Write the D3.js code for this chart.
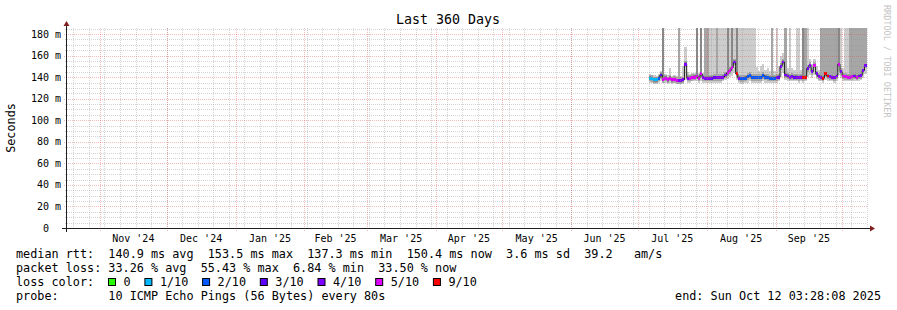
<!DOCTYPE html>
<html>
<head>
<meta charset="utf-8">
<script src="https://cdn.jsdelivr.net/npm/d3@7"></script>
<style>
body { margin: 0; background: #fff; }
svg { display: block; font-family: "DejaVu Sans Mono", monospace; }
text { white-space: pre; }
</style>
</head>
<body>
<div id="chart"></div>
<script>
(function() {

const w = 897;
const h = 310;
const plot = {left: 67, right: 867, top: 28, bottom: 228};
const yMax = 185.57;

const endTime = new Date(Date.UTC(2025, 9, 12, 3, 28, 8));
const startTime = d3.utcDay.offset(endTime, -360);
const firstDay = new Date(Date.UTC(2025, 6, 6));

// one value per day from Jul 6 2025
const medianMs = [
    139, 138.5, 137.5, 137.5, 139, 142, 138, 139, 137.5, 139,
    137.5, 138, 137, 137, 137, 137.5, 152, 139, 139, 139.5,
    140, 141, 139, 143, 139.5, 139, 139, 139, 139, 139.5,
    139.5, 139.5, 139.5, 140, 142, 144, 146, 149, 154, 143,
    139, 138.5, 138.5, 139, 140.5, 141.5, 139.5, 139.5, 139.5, 139.5,
    139.5, 141.5, 140, 139.5, 139, 139, 139, 139.5, 140, 150,
    154, 142, 141, 140, 140.5, 140, 140, 139.5, 140, 139.5,
    140, 148, 151, 145, 151, 143, 140.5, 140, 139, 143,
    141, 140.5, 140, 139.5, 141, 152, 145, 141, 140.5, 140,
    140, 140.5, 141, 140, 141, 141.5, 146, 151
];
const lossPings = [
    1, 1, 1, 1, 2, 3, 5, 5, 5, 5,
    5, 5, 5, 4, 4, 4, 4, 4, 5, 5,
    5, 5, 5, 5, 4, 4, 4, 4, 3, 3,
    4, 4, 4, 4, 4, 5, 5, 5, 4, 9,
    4, 2, 2, 2, 2, 2, 2, 2, 2, 2,
    2, 2, 2, 2, 2, 2, 2, 3, 3, 4,
    4, 4, 4, 4, 4, 3, 4, 4, 4, 9,
    9, 4, 4, 4, 5, 4, 4, 4, 9, 9,
    9, 4, 4, 4, 4, 5, 4, 5, 5, 5,
    5, 5, 4, 5, 4, 4, 4, 4
];
const smokeLowMs = [
    135, 135, 134, 134, 135, 136, 135, 135, 134, 135,
    134, 135, 134, 134, 134, 134, 137, 135, 135, 136,
    136, 136, 135, 136, 135, 135, 135, 135, 135, 135,
    135, 135, 135, 136, 137, 138, 140, 141, 144, 137,
    135, 134, 134, 135, 135, 136, 135, 135, 135, 135,
    135, 136, 135, 135, 135, 135, 135, 135, 136, 140,
    144, 137, 136, 136, 136, 136, 136, 135, 136, 135,
    136, 140, 142, 139, 142, 138, 136, 136, 135, 137,
    136, 136, 136, 135, 136, 142, 139, 136, 136, 136,
    136, 136, 136, 136, 136, 137, 139, 143
];
const smokeHighMs = [
    143, 142, 142, 141, 143, 146, 143, 143, 142, 148,
    141, 142, 141, 141, 141, 150, 168, 145, 143, 144,
    144, 146, 144, 147, 144, 144, 144, 144, 144, 144,
    144, 145, 145, 146, 148, 150, 152, 156, 160, 152,
    146, 144, 145, 147, 148, 150, 147, 146, 149, 146,
    150, 152, 147, 148, 146, 147, 146, 147, 150, 160,
    162, 150, 148, 147, 148, 147, 147, 146, 147, 147,
    148, 156, 157, 152, 157, 150, 147, 147, 146, 150,
    148, 147, 147, 146, 150, 160, 152, 148, 147, 147,
    147, 147, 148, 147, 148, 148, 152, 157
];
// how many of the high pings go off the top of the graph (smoke shade)
const offScale = [
    0, 0, 0, 0, 0, 0, 3, 0, 0, 0,
    0, 0, 0, 2, 0, 0, 0, 0, 0, 0,
    0, 3, 0, 3, 0, 2, 2, 1, 1, 1,
    2, 1, 1, 1, 1, 3, 1, 3, 1, 3,
    1, 1, 1, 1, 1, 1, 1, 1, 0, 0,
    0, 0, 0, 0, 0, 2, 0, 1, 0, 0,
    0, 2, 0, 1, 0, 0, 1, 1, 0, 3,
    2, 1, 0, 0, 0, 0, 0, 2, 2, 2,
    2, 2, 2, 2, 2, 3, 1, 0, 1, 1,
    2, 2, 2, 2, 2, 2, 2, 2
];

const lossSteps = [1, 2, 3, 4, 5, 9];
const lossColors = ["#26ff00", "#00b8ff", "#0059ff", "#5e00ff", "#7e00ff", "#dd00ff", "#ff0000"];
const lossLabels = ["0", "1/10", "2/10", "3/10", "4/10", "5/10", "9/10"];
const smokeShades = ["#cdcdcd", "#a6a6a6", "#878787"];

const monthLabels = ["Nov '24", "Dec '24", "Jan '25", "Feb '25", "Mar '25", "Apr '25",
    "May '25", "Jun '25", "Jul '25", "Aug '25", "Sep '25"];
const yTicks = [0, 20, 40, 60, 80, 100, 120, 140, 160, 180];
const yTickLabels = ["0  ", "20 m", "40 m", "60 m", "80 m", "100 m", "120 m", "140 m", "160 m", "180 m"];

const medianStats = "median rtt:  140.9 ms avg  153.5 ms max  137.3 ms min  150.4 ms now  3.6 ms sd  39.2   am/s";
const lossStats = "packet loss: 33.26 % avg  55.43 % max  6.84 % min  33.50 % now";
const probeText = "probe:       10 ICMP Echo Pings (56 Bytes) every 80s";
const endText = "end: Sun Oct 12 03:28:08 2025";

const xScale = d3.scaleUtc()
    .domain([startTime, endTime])
    .range([plot.left, plot.right]);

const yScale = d3.scaleLinear()
    .domain([0, yMax])
    .range([plot.bottom, plot.top]);

const lossColour = d3.scaleThreshold()
    .domain(lossSteps)
    .range(lossColors);

const days = medianMs.map(function(m, i) {
    return {
        date: d3.utcDay.offset(firstDay, i),
        median: m,
        loss: lossPings[i],
        low: smokeLowMs[i],
        high: smokeHighMs[i],
        off: offScale[i]
    };
});

function dayX(d) {
    return xScale(d.date);
}
function dayW(d) {
    return xScale(d3.utcDay.offset(d.date, 1)) - xScale(d.date);
}

const svg = d3.select("#chart")
    .append("svg")
    .attr("width", w)
    .attr("height", h);

svg.append("rect")
    .attr("width", w)
    .attr("height", h)
    .attr("fill", "#fff");

// smoke, outer light band first
const smoke = svg.append("g").attr("shape-rendering", "crispEdges");

smoke.selectAll("rect.s1")
    .data(days)
    .enter()
    .append("rect")
    .attr("x", dayX)
    .attr("width", dayW)
    .attr("y", function(d) { return yScale(d.off >= 1 ? yMax : d.high); })
    .attr("height", function(d) { return yScale(d.low) - yScale(d.off >= 1 ? yMax : d.high); })
    .attr("fill", smokeShades[0]);

smoke.selectAll("rect.s2")
    .data(days)
    .enter()
    .append("rect")
    .attr("x", dayX)
    .attr("width", dayW)
    .attr("y", function(d) { return yScale(d.off >= 2 ? yMax : Math.min(d.high, d.median + 3)); })
    .attr("height", function(d) {
        return yScale(Math.max(d.low, d.median - 3)) - yScale(d.off >= 2 ? yMax : Math.min(d.high, d.median + 3));
    })
    .attr("fill", smokeShades[1]);

smoke.selectAll("rect.s3")
    .data(days)
    .enter()
    .append("rect")
    .attr("x", dayX)
    .attr("width", dayW)
    .attr("y", function(d) { return yScale(d.off >= 3 ? yMax : d.median + 1.6); })
    .attr("height", function(d) {
        return yScale(d.median - 1.6) - yScale(d.off >= 3 ? yMax : d.median + 1.6);
    })
    .attr("fill", smokeShades[2]);

// median line + loss coloured band
const lineData = days.concat([{date: d3.utcDay.offset(days[days.length-1].date, 1), median: days[days.length-1].median}]);
svg.append("path")
    .datum(lineData)
    .attr("fill", "none")
    .attr("stroke", "#202020")
    .attr("stroke-width", 1)
    .attr("d", d3.line()
        .x(function(d) { return xScale(d.date); })
        .y(function(d) { return yScale(d.median); })
        .curve(d3.curveStepAfter));

svg.append("g")
    .attr("shape-rendering", "crispEdges")
    .selectAll("rect")
    .data(days)
    .enter()
    .append("rect")
    .attr("x", dayX)
    .attr("width", dayW)
    .attr("y", function(d) { return yScale(d.median + 1.3); })
    .attr("height", function(d) { return yScale(d.median - 1.3) - yScale(d.median + 1.3); })
    .attr("fill", function(d) { return lossColour(d.loss); });

// grid (drawn over the graph like rrdtool)
const grid = svg.append("g")
    .attr("shape-rendering", "crispEdges")
    .attr("stroke-dasharray", "1,1");

const minorColour = "rgba(143,143,143,0.38)";
const majorColour = "rgba(222,79,79,0.38)";

const minorY = d3.range(5, yMax, 5).filter(function(v) { return v % 20 != 0; });
grid.selectAll("line.hy")
    .data(minorY)
    .enter()
    .append("line")
    .attr("x1", plot.left - 2)
    .attr("x2", plot.right)
    .attr("y1", function(d) { return Math.round(yScale(d)) + 0.5; })
    .attr("y2", function(d) { return Math.round(yScale(d)) + 0.5; })
    .attr("stroke", minorColour);

const weeks = d3.utcSunday.range(startTime, endTime);
grid.selectAll("line.vx")
    .data(weeks)
    .enter()
    .append("line")
    .attr("x1", function(d) { return Math.round(xScale(d)) + 0.5; })
    .attr("x2", function(d) { return Math.round(xScale(d)) + 0.5; })
    .attr("y1", plot.top)
    .attr("y2", plot.bottom + 2)
    .attr("stroke", minorColour);

grid.selectAll("line.my")
    .data(yTicks.slice(1))
    .enter()
    .append("line")
    .attr("x1", plot.left - 3)
    .attr("x2", plot.right)
    .attr("y1", function(d) { return Math.round(yScale(d)) + 0.5; })
    .attr("y2", function(d) { return Math.round(yScale(d)) + 0.5; })
    .attr("stroke", majorColour);

const months = d3.utcMonth.range(d3.utcMonth.ceil(startTime), endTime);
grid.selectAll("line.mx")
    .data(months)
    .enter()
    .append("line")
    .attr("x1", function(d) { return Math.round(xScale(d)) + 0.5; })
    .attr("x2", function(d) { return Math.round(xScale(d)) + 0.5; })
    .attr("y1", plot.top)
    .attr("y2", plot.bottom + 3)
    .attr("stroke", majorColour);

// axes
svg.append("line")
    .attr("x1", plot.left - 5)
    .attr("x2", plot.right + 3)
    .attr("y1", plot.bottom + 0.5)
    .attr("y2", plot.bottom + 0.5)
    .attr("stroke", "#1f1f1f")
    .attr("shape-rendering", "crispEdges");

svg.append("line")
    .attr("x1", plot.left - 0.5)
    .attr("x2", plot.left - 0.5)
    .attr("y1", plot.bottom + 4)
    .attr("y2", plot.top - 3)
    .attr("stroke", "#1f1f1f")
    .attr("shape-rendering", "crispEdges");

svg.append("path")
    .attr("d", `M${plot.left - 0.5},${plot.top - 7} L${plot.left - 3.5},${plot.top - 2} L${plot.left + 2.5},${plot.top - 2} Z`)
    .attr("fill", "#801f1f");

svg.append("path")
    .attr("d", `M${plot.right + 8},${plot.bottom + 0.5} L${plot.right + 3},${plot.bottom - 2.5} L${plot.right + 3},${plot.bottom + 3.5} Z`)
    .attr("fill", "#801f1f");

// y labels
svg.selectAll("text.ylab")
    .data(yTicks)
    .enter()
    .append("text")
    .attr("x", 61)
    .attr("y", function(d) { return yScale(d) + 3.6; })
    .attr("text-anchor", "end")
    .attr("font-size", "10px")
    .attr("fill", "#000")
    .text(function(d, i) { return yTickLabels[i]; });

// month labels centred in the month
svg.selectAll("text.xlab")
    .data(monthLabels)
    .enter()
    .append("text")
    .attr("x", function(d, i) {
        return (xScale(months[i]) + xScale(d3.utcMonth.offset(months[i], 1))) / 2;
    })
    .attr("y", 242)
    .attr("text-anchor", "middle")
    .attr("font-size", "10px")
    .attr("fill", "#000")
    .text(function(d) { return d; });

svg.append("text")
    .attr("x", 448)
    .attr("y", 24)
    .attr("text-anchor", "middle")
    .attr("font-size", "13.3px")
    .attr("fill", "#000")
    .text("Last 360 Days");

svg.append("text")
    .attr("transform", "translate(15,128) rotate(-90)")
    .attr("text-anchor", "middle")
    .attr("font-size", "11.8px")
    .attr("fill", "#000")
    .text("Seconds");

svg.append("text")
    .attr("transform", "translate(884,5) rotate(90)")
    .attr("font-size", "8.5px")
    .attr("fill", "#c4c4c4")
    .text("RRDTOOL / TOBI OETIKER");

// legend
const legend = svg.append("g")
    .attr("font-size", "11.8px")
    .attr("fill", "#000");

legend.append("text").attr("x", 16).attr("y", 258).text(medianStats);
legend.append("text").attr("x", 16).attr("y", 272).text(lossStats);
legend.append("text").attr("x", 16).attr("y", 286).text("loss color:");
legend.append("text").attr("x", 16).attr("y", 300).text(probeText);
legend.append("text").attr("x", 881).attr("y", 300).attr("text-anchor", "end").text(endText);

let sx = 108.5;
lossLabels.forEach(function(lab, i) {
    legend.append("rect")
        .attr("x", sx)
        .attr("y", 278.5)
        .attr("width", 7)
        .attr("height", 7)
        .attr("fill", lossColors[i])
        .attr("stroke", "#000")
        .attr("stroke-width", 1);
    legend.append("text")
        .attr("x", sx + 15)
        .attr("y", 286)
        .text(lab);
    sx += 15 + lab.length * 7.1 + 14.3;
});

})();
</script>
</body>
</html>
